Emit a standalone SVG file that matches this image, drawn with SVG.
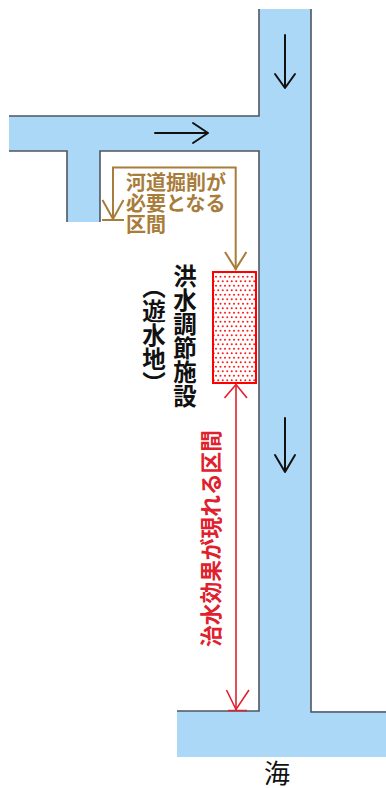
<svg xmlns="http://www.w3.org/2000/svg" width="386" height="788" viewBox="0 0 386 788">
<defs>
<pattern id="dots" patternUnits="userSpaceOnUse" width="9" height="9">
<rect width="9" height="9" fill="#ffffff"/>
<circle cx="2.25" cy="2.25" r="1" fill="#ff1a1a"/>
<circle cx="6.75" cy="2.25" r="1" fill="#ff1a1a"/>
<circle cx="0" cy="6.75" r="1" fill="#ff1a1a"/>
<circle cx="4.5" cy="6.75" r="1" fill="#ff1a1a"/>
<circle cx="9" cy="6.75" r="1" fill="#ff1a1a"/>
</pattern>
<style>
.water{fill:#acd8f8;stroke:none}
.bank{fill:none;stroke:#4f5660;stroke-width:1.6}
.flow{fill:none;stroke:#111111;stroke-width:2;stroke-linecap:round;stroke-linejoin:round}
.brown{fill:none;stroke:#a87c3a;stroke-width:2}
.red{fill:none;stroke:#e0202c;stroke-width:1.6}
.lbl-brown{font-family:"Noto Sans CJK JP","Noto Sans CJK SC",sans-serif;font-weight:bold;font-size:20px;fill:#a87c3a}
.lbl-black{font-family:"Noto Sans CJK JP","Noto Sans CJK SC",sans-serif;font-weight:bold;font-size:23.5px;fill:#111111;writing-mode:vertical-rl;text-orientation:mixed;letter-spacing:0.5px}
.lbl-red{font-family:"Noto Sans CJK JP","Noto Sans CJK SC",sans-serif;font-weight:bold;font-size:21.7px;fill:#e0202c;text-anchor:middle}
.lbl-sea{font-family:"Noto Sans CJK JP","Noto Sans CJK SC",sans-serif;font-size:26px;fill:#111111;text-anchor:middle}
</style>
</defs>
<rect width="386" height="788" fill="#ffffff"/>

<g id="river">
<path class="water" d="M259,9 H311 V711 H386 V757 H177 V711 H259 V151 H100 V222 H67 V151 H9 V116 H259 Z"/>
<path class="bank" d="M9,116 H259 V9"/>
<path class="bank" d="M311,9 V712 H386"/>
<path class="bank" d="M9,151 H67 V222"/>
<path class="bank" d="M100,222 V151 H259 V711 H177"/>
</g>

<g id="flow-arrows">
<path class="flow" d="M285,35 V88 M275,74 L285,88 L295,74"/>
<path class="flow" d="M155,133 H208 M193,123 L208,133 L193,143"/>
<path class="flow" d="M285,418 V472 M275,455 L285,472 L295,455"/>
</g>

<g id="facility">
<rect x="213" y="272" width="43" height="111" fill="url(#dots)" stroke="#ff0000" stroke-width="2"/>
</g>

<g id="connectors">
<path class="brown" d="M113,220 V167.5 H235.7 V270"/>
<path class="brown" d="M102.5,200 L113,219 L123.5,200 M102,220 H124"/>
<path class="brown" d="M225,252 L235.7,269 L246.4,252"/>
<path class="red" d="M236,385 V710"/>
<path class="red" d="M224.5,398 L236,384.5 L247,398"/>
<path class="red" d="M226.5,690 L236,709.5 L249,690 M228,710.5 H247"/>
</g>

<g id="label-excavation">
<text class="lbl-brown" x="126" y="190">河道掘削が</text>
<text class="lbl-brown" x="126" y="211">必要となる</text>
<text class="lbl-brown" x="126" y="232">区間</text>
</g>

<g id="label-facility">
<text class="lbl-black" x="185" y="264">洪水調節施設</text>
<text class="lbl-black" x="154" y="275">（遊水地）</text>
</g>

<g id="label-effect">
<text class="lbl-red" transform="translate(211,538.5) rotate(-90)" x="0" y="8">治水効果が現れる区間</text>
</g>

<g id="label-sea">
<text class="lbl-sea" x="277" y="783">海</text>
</g>
</svg>
